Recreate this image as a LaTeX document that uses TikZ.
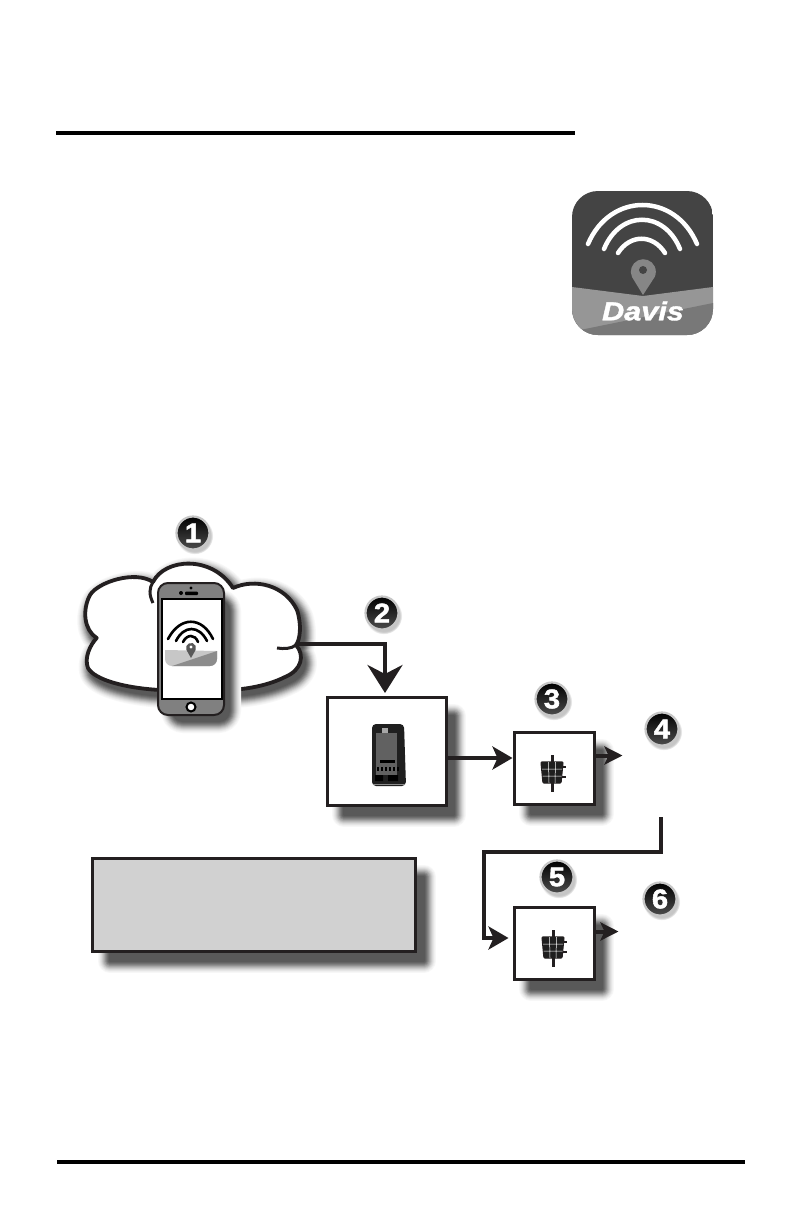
\documentclass[tikz,border=0pt]{standalone}
\usepackage{fontspec}
\setmainfont{Liberation Sans}
\newfontfamily\logofont[FakeStretch=1.18,FakeBold=1.5]{Liberation Sans Bold Italic}
\newfontfamily\badgefont[FakeStretch=1.08,FakeBold=1.8]{Liberation Sans Bold}
\usetikzlibrary{positioning, arrows.meta, calc, shadows}
\definecolor{inkblack}{RGB}{35,31,32}
\definecolor{boxgray}{RGB}{209,209,209}
\definecolor{icondark}{RGB}{68,68,68}
\definecolor{bandgray}{RGB}{150,150,150}
\definecolor{wedgegray}{RGB}{120,120,120}

\newcommand{\softshadow}[3]{%
  \foreach \w/\g in {24/3,22/6,20/10,18/15,16/21,14/28,12/35,10/43,8/50,6/56,4/61,2/65}{
    \path[fill=black!\g, draw=black!\g, line width=\w pt, line join=round, shift={(#1,#2)}] #3;
  }}

\newcommand{\solarsensor}[2]{%
  \begin{scope}[shift={(#1,#2)}]
    \draw[inkblack, line width=3pt] (0,-18) -- (0,19);
    \draw[inkblack, line width=2.4pt] (8,-6) -- (14,-6) (8,4) -- (14,4);
    \path[fill=black!88, draw=inkblack, line width=1.2pt, rounded corners=1pt] (-11,-11) -- (11,-11) -- (9,10) -- (-9,10) -- cycle;
    \draw[white, line width=.5pt] (-3.5,-11) -- (-3,10) (3.5,-11) -- (3,10) (-10,-4) -- (10,-4) (-9.5,3) -- (9.5,3);
  \end{scope}}

\begin{document}
\begin{tikzpicture}[
  x=1pt, y=-1pt,
  devbox/.style={draw=inkblack, line width=3pt, fill=white, minimum width=80pt, minimum height=72pt, inner sep=0pt},
  badge/.style={circle, minimum size=33pt, inner sep=0pt, draw=black!22, line width=2.2pt,
                top color=black, bottom color=black!70, text=white,
                font=\fontsize{27}{27}\badgefont,
                circular drop shadow={shadow xshift=1.5pt, shadow yshift=-2.5pt, shadow scale=1.12, opacity=.45}},
  flow/.style={draw=inkblack, line width=4pt},
  bigtip/.style={-{Stealth[length=28pt, width=35pt, inset=9pt]}},
  midtip/.style={-{Stealth[length=20pt, width=23pt, inset=5pt]}},
  smalltip/.style={-{Stealth[length=18pt, width=18pt, inset=4pt]}}
]
  \useasboundingbox[fill=white] (0,0) rectangle (793,1225);

  \draw[black, line width=4pt] (56,133) -- (575,133);
  \draw[black, line width=4pt] (57,1162) -- (745,1162);

  % app icon
  \begin{scope}
    \clip[rounded corners=26pt] (572,191) rectangle (713,335);
    \fill[icondark] (572,191) rectangle (713,335);
    \fill[bandgray] (572,287) -- (643,296) -- (713,287) -- (713,335) -- (572,335) -- cycle;
    \fill[wedgegray] (713,303) -- (713,335) -- (572,335) -- (580,330) -- cycle;
  \end{scope}
  \draw[white, line width=4.5pt, line cap=round] (588,244) .. controls (610,192) and (675,192) .. (697,244);
  \draw[white, line width=4.5pt, line cap=round] (604,249) .. controls (620,210) and (664,210) .. (680,249);
  \draw[white, line width=4.5pt, line cap=round] (618,253) .. controls (630,234) and (653,234) .. (665,253);
  \fill[wedgegray!90] (643,295) -- (632,277) arc[start angle=205, end angle=-25, radius=12.5pt] -- cycle;
  \fill[icondark] (643,270) circle[radius=4pt];
  \node[font=\fontsize{26}{26}\logofont, text=white, inner sep=0pt] (davis) at (643,311) {Davis};

  % cloud
  \def\cloudshape{(96.7,638) .. controls (84,630) and (82,610) .. (90,595) .. controls (98,582) and (135,570) .. (153,582)
    .. controls (165,558) and (212,555) .. (233,588) .. controls (255,578) and (285,585) .. (297,610)
    .. controls (302,625) and (300,640) .. (296,645) .. controls (305,655) and (302,670) .. (285,677)
    .. controls (265,687) and (240,690) .. (225,690) -- (160,690) .. controls (125,688) and (95,680) .. (88,668)
    .. controls (84,658) and (90,645) .. (96.7,638) -- cycle}
  \softshadow{4}{6}{\cloudshape}
  \draw[fill=white, draw=inkblack, line width=3.8pt, line join=round] \cloudshape;
  \draw[inkblack, line width=3pt] (153,603) .. controls (149,595) and (149,588) .. (153,582);
  \draw[inkblack, line width=3pt] (296,645) .. controls (291,649) and (284,649) .. (277,648);

  % phone
  \softshadow{5}{6}{[rounded corners=10pt] (168,595) rectangle (224,715)}
  \draw[fill=black!50, draw=inkblack, line width=2pt, rounded corners=10pt] (158,583) rectangle (224,715);
  \draw[fill=white, draw=black, line width=1.6pt] (162,599) rectangle (222,699);
  \fill[black] (181,593) circle[radius=2pt] (191,588) circle[radius=1.6pt];
  \fill[black, rounded corners=1pt] (185,591.5) rectangle (198,595);
  \draw[fill=white, draw=black, line width=2pt] (191,707) circle[radius=4.5pt];
  \begin{scope}
    \clip[rounded corners=7pt] (165,640) rectangle (217,666);
    \fill[black!22] (165,650) -- (217,651) -- (217,666) -- (165,666) -- cycle;
    \fill[black!45] (217,651) -- (217,666) -- (165,666) -- (172,666) -- cycle;
  \end{scope}
  \draw[black, line width=2.6pt, line cap=round] (168,639) .. controls (180,616) and (202,616) .. (213,639);
  \draw[black, line width=2.6pt, line cap=round] (176,641) .. controls (184,625) and (199,625) .. (207,641);
  \draw[black, line width=2.6pt, line cap=round] (183,642) .. controls (187,634) and (195,634) .. (198,642);
  \fill[black!65] (191,658) -- (186.5,650) arc[start angle=205, end angle=-25, radius=5pt] -- cycle;
  \fill[white] (191,647) circle[radius=1.6pt];

  % boxes
  \softshadow{7}{9}{(337,707) rectangle (446.5,805.5)}
  \softshadow{7}{9}{(524,742) rectangle (594.5,804.5)}
  \softshadow{7}{9}{(524,917) rectangle (594.5,979.5)}
  \softshadow{8}{9}{(102,868) rectangle (415.5,951.5)}
  \node[devbox, minimum width=119pt, minimum height=108pt] (gateway) at (387,751.5) {};
  \node[devbox] (sensorA) at (554.5,768.5) {};
  \node[devbox] (sensorB) at (554.5,943.5) {};
  \node[devbox, fill=boxgray, minimum width=323pt, minimum height=93pt] (notebox) at (254,905) {};

  % gateway icon
  \fill[black!88, rounded corners=4pt] (372,724) -- (404,724) -- (406,786) -- (372,786) -- cycle;
  \fill[black!62] (376,733) rectangle (397,775);
  \fill[black!35] (382,728) rectangle (388,733);
  \fill[black] (380,760) rectangle (395,763);
  \fill[black] (375,775) rectangle (383,781) (388,775) rectangle (398,781);
  \foreach \dotx in {377,381,...,397}{
    \fill[black] (\dotx,767) rectangle ++(1.6,4);
  }
  \draw[black!45, line width=.8pt] (373,784) -- (405,784);

  \solarsensor{552}{773}
  \solarsensor{553}{948}

  % connectors
  \coordinate (cloudport) at (297,644);
  \coordinate (sensorAout) at (622.5,755.5);
  \coordinate (sensorBout) at (618.5,931.5);
  \coordinate (relaystart) at (661,817);
  \draw[flow, bigtip, shorten >=3pt] (cloudport) -| ([xshift=-2pt]gateway.north);
  \draw[flow, midtip] ([yshift=-6.5pt]gateway.east) -- ([yshift=10.5pt, xshift=-.5pt]sensorA.west);
  \draw[flow, smalltip] (sensorA.east |- sensorAout) -- (sensorAout);
  \draw[flow, smalltip] (sensorB.east |- sensorBout) -- (sensorBout);
  \draw[flow, midtip, shorten >=4.5pt, line join=miter] (relaystart) |- ++(-177,35) |- ([yshift=5.5pt]sensorB.west);

  % badges
  \node[badge] (stepone) at (193,533) {1};
  \node[badge] (steptwo) at (382,613) {2};
  \node[badge] (stepthree) at (552,699) {3};
  \node[badge] (stepfour) at (662,729) {4};
  \node[badge] (stepfive) at (557,877) {5};
  \node[badge] (stepsix) at (660,899) {6};
\end{tikzpicture}
\end{document}
